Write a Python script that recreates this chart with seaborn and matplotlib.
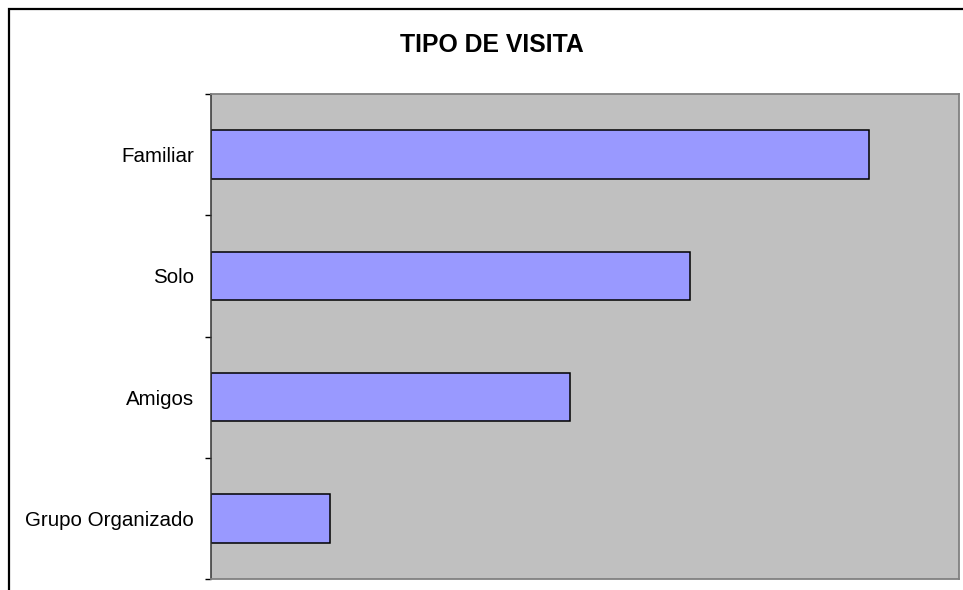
import matplotlib
matplotlib.use('Agg')
import matplotlib.pyplot as plt
import seaborn as sns
import pandas as pd
from matplotlib.patches import Rectangle

# data
categorias = ['Familiar', 'Solo', 'Amigos', 'Grupo Organizado']
valores = [44, 32, 24, 8]

df = pd.DataFrame({'tipo': categorias, 'n': valores})

sns.set_style('white')
plt.rcParams['font.family'] = ['Liberation Sans', 'DejaVu Sans']
plt.rcParams['text.color'] = 'black'
plt.rcParams['ytick.color'] = 'black'
plt.rcParams['ytick.labelcolor'] = 'black'

fig = plt.figure(figsize=(9.63, 5.90), dpi=100)
ax = fig.add_axes([0.2188, 0.0186, 0.7772, 0.8221])

sns.barplot(data=df, x='n', y='tipo', orient='h', color='#9999FF',
            saturation=1, width=0.4, edgecolor='black', linewidth=1.1, ax=ax)

ax.set_facecolor('#C0C0C0')
ax.set_xlim(0, 50)
ax.set_ylim(3.5, -0.5)
ax.set_xticks([])
ax.set_xlabel('')
ax.set_ylabel('')

# labels centred, tick marks between categories
ax.set_yticks(range(len(categorias)))
ax.set_yticklabels(categorias, fontsize=14.8, color='black')
ax.tick_params(axis='y', which='major', length=0, pad=12)
ax.set_yticks([-0.5, 0.5, 1.5, 2.5, 3.5], minor=True)
ax.tick_params(axis='y', which='minor', length=4, width=1, color='black', left=True)

for side in ['top', 'right', 'bottom']:
    ax.spines[side].set_color('#808080')
    ax.spines[side].set_linewidth(1.3)
ax.spines['left'].set_color('#333333')
ax.spines['left'].set_linewidth(1.1)

fig.text(0.5104, 0.924, 'TIPO DE VISITA', ha='center', va='center',
         fontsize=17.8, fontweight='bold', color='black')

# outer chart frame (right and bottom edges fall outside the picture)
fig.patches.append(Rectangle((8.8 / 963, -0.1), 1.2, 1.1 - 8.8 / 590,
                             transform=fig.transFigure, fill=False,
                             edgecolor='black', linewidth=1.6, zorder=10))

fig.savefig('out.png', dpi=100)
